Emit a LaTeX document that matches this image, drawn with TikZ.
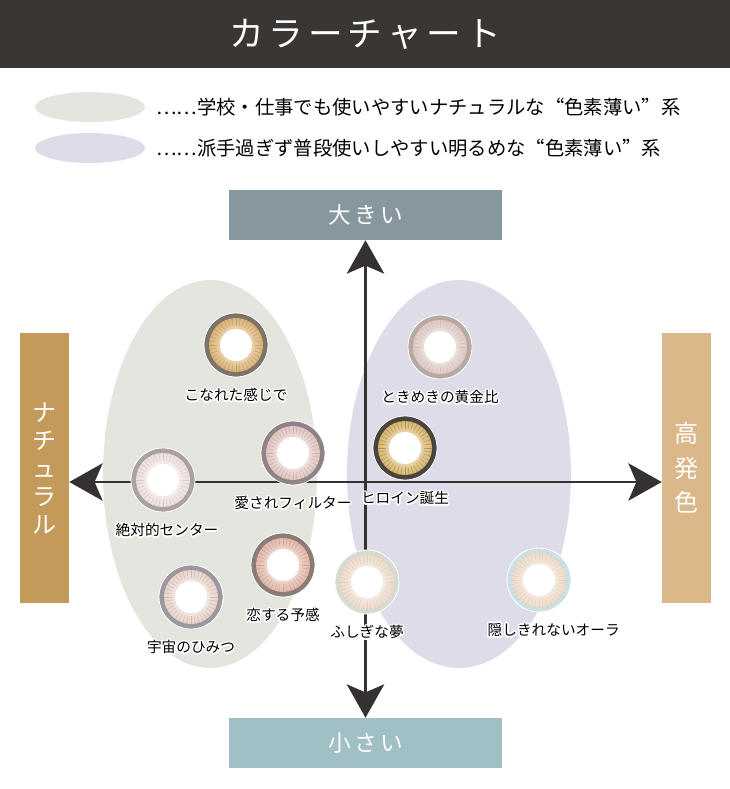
\documentclass[tikz,border=0pt]{standalone}
\usepackage{fontspec}
\setmainfont{Noto Sans CJK JP}
\usepackage{contour}
\usetikzlibrary{arrows.meta}
\usetikzlibrary{shapes}
\usetikzlibrary{positioning}
\definecolor{header}{HTML}{3A3634}
\definecolor{calm}{HTML}{E4E5DF}
\definecolor{bright}{HTML}{DEDCE9}
\definecolor{bigbox}{HTML}{86979F}
\definecolor{smallbox}{HTML}{A0C0C5}
\definecolor{naturalbox}{HTML}{C49A5A}
\definecolor{vividbox}{HTML}{DAB88A}
\definecolor{axisgrey}{HTML}{353131}
% lens colours
\definecolor{konarerim}{HTML}{7D7468}
\definecolor{konareiris}{HTML}{DDB474}
\definecolor{tokimekirim}{HTML}{B8A8A4}
\definecolor{tokimekiiris}{HTML}{DFCBC4}
\definecolor{aisarerim}{HTML}{8E8488}
\definecolor{aisareiris}{HTML}{E4C6C2}
\definecolor{heroinerim}{HTML}{4A443E}
\definecolor{heroineiris}{HTML}{DBB76E}
\definecolor{zettairim}{HTML}{ABA1A5}
\definecolor{zettaiiris}{HTML}{EEE0DC}
\definecolor{uchurim}{HTML}{9C98A2}
\definecolor{uchuiris}{HTML}{E6D6D0}
\definecolor{uchuspoke}{HTML}{C8784A}
\definecolor{koisururim}{HTML}{8C7C76}
\definecolor{koisuruiris}{HTML}{E4BAAC}
\definecolor{fushigirim}{HTML}{D6DDD0}
\definecolor{fushigiiris}{HTML}{ECDCCC}
\definecolor{kakushirim}{HTML}{CDE0E3}
\definecolor{kakushiiris}{HTML}{EEDCCA}
\definecolor{peach}{HTML}{DDB196}
\contourlength{1.2pt}

\newcommand{\fullq}[1]{{\addfontfeature{CharacterWidth=Full}#1}}

% one lens: name, centre, rim, iris, spokes, label, label shift
\newcommand{\lens}[7]{%
  \node[lens, fill=#3] (#1) at (#2) {};
  \fill[#4] (#1.center) circle (27);
  \shade[inner color=white, outer color=#4] (#1.center) circle (26);
  \fill[white] (#1.center) circle (16);
  \foreach \a in {0, 9, ..., 351}
    \draw[#5, opacity=0.35, line width=0.4pt] (#1.center) ++(\a:19) -- ++(\a:10);
  \node[tag, below=8pt of #1, xshift=#7] (#1-tag) {\contour{white}{#6}};
}

\begin{document}
\begin{tikzpicture}[x=0.75pt, y=-0.75pt,
    every node/.style={inner sep=0pt},
    hbox/.style={fill=#1, minimum width=204.75pt, minimum height=37.5pt, text=white,
      font=\fontsize{17}{20}\selectfont\addfontfeature{LetterSpace=15}},
    vbox/.style={fill=#1, minimum width=36.75pt, minimum height=202.5pt, text=white,
      align=center},
    zone/.style={ellipse, fill=#1},
    lens/.style={circle, minimum size=48pt, draw=white, line width=0.6pt},
    tag/.style={font=\fontsize{11}{13}\selectfont},
    legend/.style={anchor=west, font=\fontsize{14.5}{16}\selectfont},
    axis/.style={line width=2.2pt, color=axisgrey,
      {Stealth[length=25pt, width=28pt, inset=6pt]}-{Stealth[length=25pt, width=28pt, inset=6pt]}}]
  \useasboundingbox (0,0) rectangle (730,789);

  % header and legend
  \fill[header] (0,0) rectangle (730,68);
  \node[text=white, font=\fontsize{26}{30}\selectfont\addfontfeature{LetterSpace=14}] (title) at (365,34) {カラーチャート};
  \node[zone=calm, minimum width=82.5pt, minimum height=22.5pt] (calmkey) at (90,107) {};
  \node[zone=bright, minimum width=82.5pt, minimum height=22.5pt] (brightkey) at (90,148) {};
  \node[legend] (calmtext) at (156,107) {……学校・仕事でも使いやすいナチュラルな\fullq{“}色素薄い\fullq{”}系};
  \node[legend] (brighttext) at (156,148) {……派手過ぎず普段使いしやすい明るめな\fullq{“}色素薄い\fullq{”}系};

  % zones
  \node[zone=calm, minimum width=160.5pt, minimum height=291pt] (calmzone) at (210,474) {};
  \node[zone=bright, minimum width=168pt, minimum height=291pt] (brightzone) at (459,474) {};

  % axes
  \node[hbox=bigbox] (big) at (365.5,215) {大きい};
  \node[hbox=smallbox] (small) at (365.5,743) {小さい};
  \node[vbox=naturalbox, font=\fontsize{18}{21}\selectfont] (natural) at (44.5,468) {ナ\\チ\\ュ\\ラ\\ル};
  \node[vbox=vividbox, font=\fontsize{18}{26}\selectfont] (vivid) at (686.5,468) {高\\発\\色};
  \coordinate (centre) at (365,482);
  \draw[axis] (big.south) -- (small.north);
  \draw[axis] (natural.east |- centre) -- (vivid.west |- centre);

  % lenses
  \lens{konare}{236,345}{konarerim}{konareiris}{konarerim}{こなれた感じで}{0pt}
  \lens{tokimeki}{440,347}{tokimekirim}{tokimekiiris}{tokimekirim}{ときめきの黄金比}{0pt}
  \lens{aisare}{293,453}{aisarerim}{aisareiris}{aisarerim}{愛されフィルター}{0pt}
  \lens{heroine}{405,448}{heroinerim}{heroineiris}{heroinerim}{ヒロイン誕生}{0pt}
  \lens{zettai}{163,480}{zettairim}{zettaiiris}{zettairim}{絶対的センター}{3pt}
  \lens{uchu}{191,597}{uchurim}{uchuiris}{uchuspoke}{宇宙のひみつ}{0pt}
  \lens{koisuru}{283,565}{koisururim}{koisuruiris}{koisururim}{恋する予感}{0pt}
  \lens{fushigi}{367,582}{fushigirim}{fushigiiris}{peach}{ふしぎな夢}{0pt}
  \lens{kakushi}{539,580}{kakushirim}{kakushiiris}{peach}{隠しきれないオーラ}{11pt}
\end{tikzpicture}
\end{document}
